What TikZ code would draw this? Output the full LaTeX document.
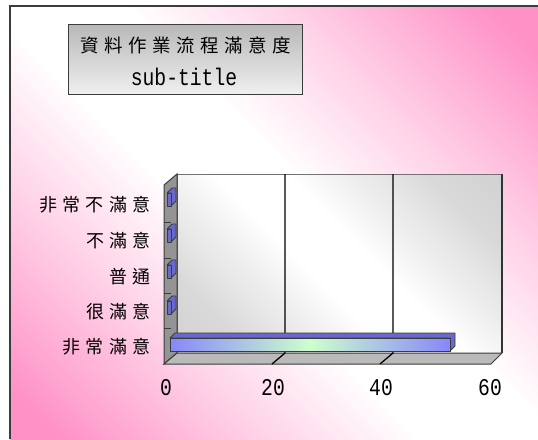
\documentclass[tikz,border=0pt]{standalone}
\usepackage{fontspec}
\newfontfamily\cjkfont[LetterSpace=30]{Noto Sans CJK TC}
\newfontfamily\monofont[FakeStretch=0.82]{Liberation Mono}
\definecolor{bgpink}{RGB}{255,145,198}
\definecolor{barblue}{RGB}{135,135,250}
\definecolor{bargreen}{RGB}{205,255,205}
\definecolor{bartop}{RGB}{105,105,205}
\definecolor{edgegray}{RGB}{60,60,60}
\pgfdeclarehorizontalshading{pinkband}{100bp}{color(0bp)=(bgpink); color(18bp)=(bgpink); color(32bp)=(bgpink!45!white); color(45bp)=(white); color(55bp)=(white); color(68bp)=(bgpink!45!white); color(82bp)=(bgpink); color(100bp)=(bgpink)}
\pgfdeclarehorizontalshading{wallband}{100bp}{color(0bp)=(black!22); color(25bp)=(black!15); color(45bp)=(white); color(55bp)=(white); color(75bp)=(black!15); color(100bp)=(black!22)}

\begin{document}
\begin{tikzpicture}[x=1pt, y=-1pt, every node/.style={inner sep=0pt},
  catlabel/.style={anchor=east, font=\cjkfont\fontsize{18}{18}\selectfont},
  numlabel/.style={font=\monofont\fontsize{24}{24}\selectfont},
  gridline/.style={draw=black, line width=1.3pt},
  smallbar/.style={draw=edgegray, fill=bartop, line width=0.8pt, line join=round}]
\useasboundingbox (0,0) rectangle (538,439);
% background
\shade[shading=pinkband, shading angle=45] (10,6) rectangle (538,439);
\draw[edgegray, line width=1.5pt] (10,439) -- (10,6) -- (538,6);
% title
\node[draw=edgegray, top color=black!28, bottom color=black!6, minimum width=234pt, minimum height=70pt, align=center] (title) at (185,59) {};
\node[font=\cjkfont\fontsize{18.5}{19}\selectfont] (maintitle) at (186,45) {資料作業流程滿意度};
\node[numlabel] (subtitle) at (184,77) {sub-title};
% walls and floor
\shade[shading=wallband, shading angle=45] (177,174) rectangle (502,353);
\draw[black!55, line width=1pt] (177,353) -- (177,174) -- (502,174);
\draw[black!80, line width=1.8pt] (502,174) -- (502,353);
\filldraw[fill=black!42, draw=edgegray, line width=1pt] (164,185) -- (177,174) -- (177,353) -- (164,364) -- cycle;
\filldraw[fill=black!27, draw=edgegray, line width=1pt] (164,364) -- (177,353) -- (502,353) -- (491,364) -- cycle;
\draw[gridline] (285,174) -- (285,353) -- (272,364);
\draw[gridline] (393,174) -- (393,353) -- (380,364);
\draw[edgegray, line width=0.8pt] (164,222) -- (171,222);
\draw[edgegray, line width=0.8pt] (164,258) -- (171,258);
\draw[edgegray, line width=0.8pt] (164,293) -- (171,293);
\draw[edgegray, line width=0.8pt] (164,328) -- (171,328);
% bars
\filldraw[smallbar] (167,193) -- (172,188) -- (176,188) -- (176,201) -- (171,206) -- (171,193) -- cycle;
\filldraw[smallbar, fill=barblue!80!black] (167,193) rectangle (171,206);
\filldraw[smallbar] (167,229) -- (172,224) -- (176,224) -- (176,237) -- (171,242) -- (171,229) -- cycle;
\filldraw[smallbar, fill=barblue!80!black] (167,229) rectangle (171,242);
\filldraw[smallbar] (167,265) -- (172,260) -- (176,260) -- (176,273) -- (171,278) -- (171,265) -- cycle;
\filldraw[smallbar, fill=barblue!80!black] (167,265) rectangle (171,278);
\filldraw[smallbar] (167,301) -- (172,296) -- (176,296) -- (176,309) -- (171,314) -- (171,301) -- cycle;
\filldraw[smallbar, fill=barblue!80!black] (167,301) rectangle (171,314);
\filldraw[smallbar] (170,338) -- (175,333) -- (455,333) -- (455,346) -- (450,351) -- (450,338) -- cycle;
\shade[left color=barblue, right color=barblue, middle color=bargreen] (170,338) rectangle (450,351);
\draw[edgegray, line width=1pt] (170,338) rectangle (450,351);
% category labels
\node[catlabel] (c1) at (151,205) {非常不滿意};
\node[catlabel] (c2) at (151,241) {不滿意};
\node[catlabel] (c3) at (151,277) {普通};
\node[catlabel] (c4) at (151,312) {很滿意};
\node[catlabel] (c5) at (151,347) {非常滿意};
% value labels
\node[numlabel] (v0) at (166,388) {0};
\node[numlabel] (v20) at (273,388) {20};
\node[numlabel] (v40) at (381,388) {40};
\node[numlabel] (v60) at (490,388) {60};
\end{tikzpicture}
\end{document}
